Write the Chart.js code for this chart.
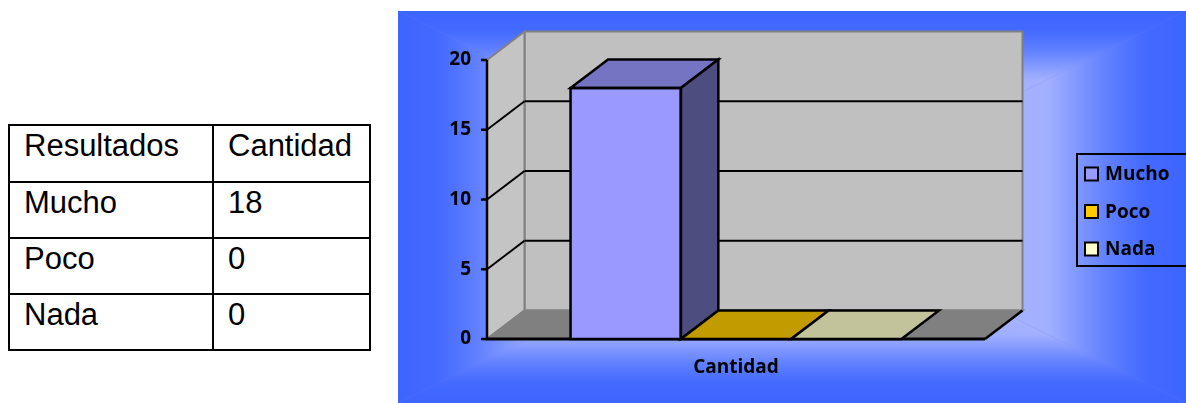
<!DOCTYPE html>
<html><head><meta charset="utf-8">
<script src="https://cdn.jsdelivr.net/npm/chart.js@4.4.1/dist/chart.umd.min.js"></script>
<style>
html,body{margin:0;padding:0;background:#fff;width:1186px;height:403px;overflow:hidden}
#tbl{position:absolute;left:8px;top:124px;border-collapse:collapse;font-family:'Liberation Sans',Arial,sans-serif;font-size:31px;line-height:34px;color:#000;table-layout:fixed;width:361px}
#tbl td{border:2px solid #000;padding:3px 0 0 14px;vertical-align:top;overflow:hidden;white-space:nowrap}
#wrap{position:absolute;left:398px;top:11px;width:788px;height:392px}
</style></head>
<body>
<table id="tbl"><colgroup><col style="width:204px"><col style="width:157px"></colgroup><tbody id="tb"></tbody></table>
<div id="wrap"><canvas id="c" width="788" height="392"></canvas></div>
<script>
const categories = ['Cantidad'];
const seriesNames = ['Mucho', 'Poco', 'Nada'];
const seriesValues = [[18], [0], [0]];
const seriesColors = ['#9999ff', '#ffcc00', '#ffffcc'];
const yTicks = [0, 5, 10, 15, 20];
const tableHeader = ['Resultados', 'Cantidad'];

// table
const tb = document.getElementById('tb');
const rows = [tableHeader].concat(seriesNames.map((n, i) => [n, String(seriesValues[i][0])]));
const rowH = [57, 56, 56, 56];
rows.forEach((r, i) => {
  const tr = document.createElement('tr');
  tr.style.height = rowH[i] + 'px';
  r.forEach(t => { const td = document.createElement('td'); td.textContent = t; tr.appendChild(td); });
  tb.appendChild(tr);
});

const DX = 37.5, DY = -28.5;
function shade(hex, f) {
  const n = parseInt(hex.slice(1), 16);
  const r = Math.round(((n >> 16) & 255) * f), g = Math.round(((n >> 8) & 255) * f), b = Math.round((n & 255) * f);
  return 'rgb(' + r + ',' + g + ',' + b + ')';
}
function poly(ctx, pts, fill, stroke, lw) {
  ctx.beginPath();
  ctx.moveTo(pts[0][0], pts[0][1]);
  for (let i = 1; i < pts.length; i++) ctx.lineTo(pts[i][0], pts[i][1]);
  ctx.closePath();
  if (fill) { ctx.fillStyle = fill; ctx.fill(); }
  if (stroke) { ctx.strokeStyle = stroke; ctx.lineWidth = lw || 2; ctx.stroke(); }
}
function line(ctx, x1, y1, x2, y2, color, lw) {
  ctx.beginPath(); ctx.moveTo(x1, y1); ctx.lineTo(x2, y2);
  ctx.strokeStyle = color; ctx.lineWidth = lw || 2; ctx.stroke();
}

const threeD = {
  id: 'threeD',
  beforeDraw(chart) {
    const ctx = chart.ctx, W = chart.width, H = chart.height, cx = W / 2, cy = H / 2;
    const stops = [[0, '#3c65ff'], [0.1, '#4369ff'], [0.2, '#6080ff'], [0.35, '#a1afff'], [1, '#c2cbff']];
    const tris = [
      [[[-1, -1], [W + 1, -1], [cx, cy]], [0, 0, 0, cy]],
      [[[W + 1, -1], [W + 1, H + 1], [cx, cy]], [W, 0, cx, 0]],
      [[[W + 1, H + 1], [-1, H + 1], [cx, cy]], [0, H, 0, cy]],
      [[[-1, H + 1], [-1, -1], [cx, cy]], [0, 0, cx, 0]]
    ];
    ctx.save();
    ctx.fillStyle = '#6080ff'; ctx.fillRect(0, 0, W, H);
    tris.forEach(([pts, g]) => {
      const gr = ctx.createLinearGradient(g[0], g[1], g[2], g[3]);
      stops.forEach(s => gr.addColorStop(s[0], s[1]));
      poly(ctx, pts, gr);
    });
    ctx.restore();
  },
  beforeDatasetsDraw(chart) {
    const ctx = chart.ctx, y = chart.scales.y, a = chart.chartArea;
    const L = a.left, R = a.right;
    const yTop = y.getPixelForValue(y.max), y0 = y.getPixelForValue(0);
    ctx.save();
    ctx.lineJoin = 'miter';
    poly(ctx, [[L + DX, yTop + DY], [R + DX, yTop + DY], [R + DX, y0 + DY], [L + DX, y0 + DY]], '#c0c0c0', '#808080', 2);
    poly(ctx, [[L, yTop], [L + DX, yTop + DY], [L + DX, y0 + DY], [L, y0]], '#c4c4c4', '#808080', 2);
    poly(ctx, [[L, y0], [R, y0], [R + DX, y0 + DY], [L + DX, y0 + DY]], '#808080', '#808080', 2);
    yTicks.forEach(v => {
      if (v <= y.min || v >= y.max) return;
      const p = y.getPixelForValue(v);
      line(ctx, L + DX, p + DY, R + DX, p + DY, '#000', 2);
      line(ctx, L, p, L + DX, p + DY, '#000', 2);
    });
    line(ctx, L, yTop, L, y0 + 1, '#000', 2.5);
    line(ctx, L - 1, y0, R, y0, '#000', 3);
    line(ctx, R, y0, R + DX, y0 + DY, '#000', 2.5);
    yTicks.forEach(v => {
      const p = y.getPixelForValue(v);
      line(ctx, L - 6, p, L, p, '#000', 2.5);
    });
    ctx.restore();
  },
  afterDatasetsDraw(chart) {
    const ctx = chart.ctx;
    ctx.save();
    ctx.lineJoin = 'miter';
    chart.data.datasets.forEach((ds, di) => {
      const meta = chart.getDatasetMeta(di);
      meta.data.forEach((bar) => {
        const p = bar.getProps(['x', 'y', 'base', 'width'], true);
        const l = p.x - p.width / 2, r = p.x + p.width / 2;
        const col = ds.backgroundColor;
        poly(ctx, [[l, p.y], [r, p.y], [r + DX, p.y + DY], [l + DX, p.y + DY]], shade(col, 0.76), '#000', 2.5);
        if (Math.abs(p.base - p.y) > 0.5) {
          poly(ctx, [[r, p.y], [r + DX, p.y + DY], [r + DX, p.base + DY], [r, p.base]], shade(col, 0.5), '#000', 2.5);
          poly(ctx, [[l, p.y], [r, p.y], [r, p.base], [l, p.base]], null, '#000', 2.5);
        }
      });
    });
    ctx.restore();
  },
  afterDraw(chart) {
    const ctx = chart.ctx;
    ctx.save();
    ctx.strokeStyle = '#000'; ctx.lineWidth = 2;
    ctx.strokeRect(679, 143, 120, 112);
    ctx.font = "bold 19px 'Open Sans'";
    ctx.textBaseline = 'middle'; ctx.textAlign = 'left';
    chart.data.datasets.forEach((ds, i) => {
      const cy = 163 + i * 37.5;
      ctx.fillStyle = ds.backgroundColor;
      ctx.fillRect(687, cy - 6.5, 13, 13);
      ctx.strokeStyle = '#000'; ctx.lineWidth = 2;
      ctx.strokeRect(687, cy - 6.5, 13, 13);
      ctx.fillStyle = '#000';
      ctx.fillText(ds.label, 707, cy + 1);
    });
    ctx.restore();
  }
};

Chart.defaults.font.family = "'Open Sans', sans-serif";
new Chart(document.getElementById('c'), {
  type: 'bar',
  data: {
    labels: categories,
    datasets: seriesNames.map((n, i) => ({
      label: n,
      data: seriesValues[i],
      backgroundColor: seriesColors[i],
      borderColor: '#000',
      borderWidth: 0,
      categoryPercentage: 0.6645,
      barPercentage: 1.0
    }))
  },
  options: {
    responsive: false,
    animation: false,
    devicePixelRatio: 1,
    layout: { padding: { top: 49, right: 201, left: 0, bottom: 0 } },
    plugins: { legend: { display: false }, tooltip: { enabled: false } },
    scales: {
      x: {
        grid: { display: false }, border: { display: false },
        ticks: { color: '#000', font: { size: 19, weight: 'bold' }, padding: 9 },
        afterFit(s) { s.height = 64; }
      },
      y: {
        min: 0, max: 20,
        afterBuildTicks(s) { s.ticks = yTicks.map(v => ({ value: v })); },
        grid: { display: false }, border: { display: false },
        ticks: { color: '#000', font: { size: 19, weight: 'bold' }, padding: 8 },
        afterFit(s) { s.width = 89; }
      }
    }
  },
  plugins: [threeD]
});
</script>
</body></html>
